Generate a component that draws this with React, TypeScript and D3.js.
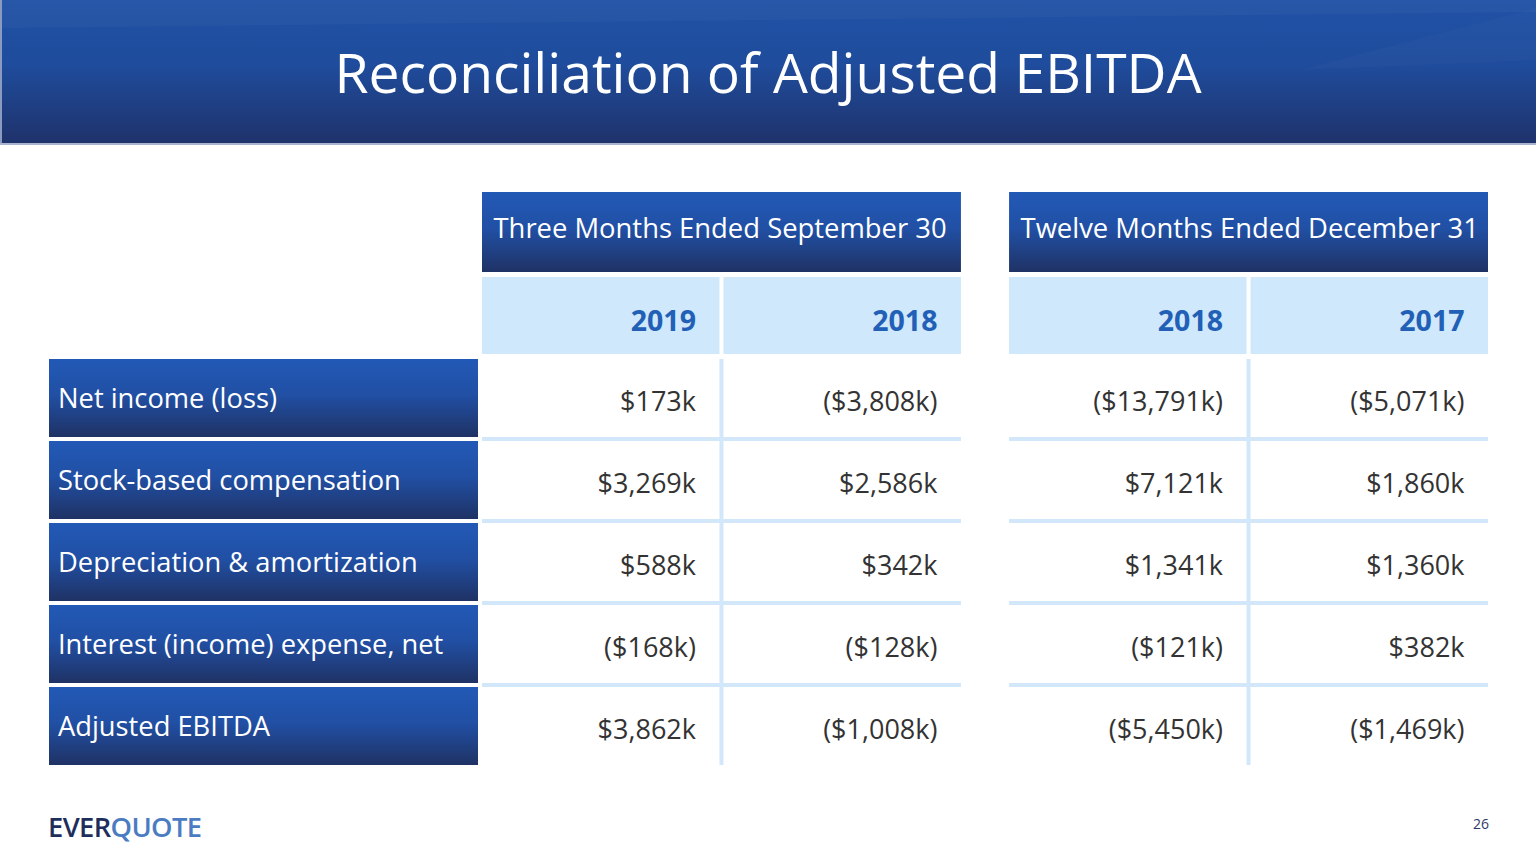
import React, { useEffect } from "react";
import * as d3 from "d3";

const title = "Reconciliation of Adjusted EBITDA";
const groups = ["Three Months Ended September 30", "Twelve Months Ended December 31"];
const years = [["2019", "2018"], ["2018", "2017"]];
const rowLabels = [
  "Net income (loss)",
  "Stock-based compensation",
  "Depreciation & amortization",
  "Interest (income) expense, net",
  "Adjusted EBITDA",
];
// values per row: [Q3 2019, Q3 2018, FY 2018, FY 2017]
const values = [
  ["$173k", "($3,808k)", "($13,791k)", "($5,071k)"],
  ["$3,269k", "$2,586k", "$7,121k", "$1,860k"],
  ["$588k", "$342k", "$1,341k", "$1,360k"],
  ["($168k)", "($128k)", "($121k)", "$382k"],
  ["$3,862k", "($1,008k)", "($5,450k)", "($1,469k)"],
];
const pageNumber = "26";

const W = 1536;
const H = 864;
const FONT = "'Open Sans', 'Noto Sans', sans-serif";

export default function App() {
  useEffect(() => {
    document.body.style.margin = "0";
  }, []);

  const gx = d3.scaleBand<number>().domain([0, 1]).range([482, 1488]).paddingInner(0.0913);
  const cx = d3.scaleBand<number>().domain([0, 1]).range([0, gx.bandwidth()]).paddingInner(0.0166);
  const ry = d3.scaleBand<number>().domain(d3.range(rowLabels.length)).range([359, 765]).paddingInner(0.0488);
  const hdrY = 192, hdrH = 80, yrY = 277, yrH = 77;
  const labelX0 = 49, labelX1 = 478;
  const sep = "#d2e8fa";
  const top = ry(0)!;
  const bottom = ry(rowLabels.length - 1)! + ry.bandwidth();
  const padR = 23.5;

  return (
    <svg width={W} height={H} style={{ display: "block", position: "absolute", left: 0, top: 0 }} fontFamily={FONT}>
      <defs>
        <linearGradient id="banner" x1="0" y1="0" x2="0" y2="1">
          <stop offset="0" stopColor="#2052a6" />
          <stop offset="0.45" stopColor="#1f4c9c" />
          <stop offset="1" stopColor="#1f326b" />
        </linearGradient>
        <linearGradient id="cell" x1="0" y1="0" x2="0" y2="1">
          <stop offset="0" stopColor="#2259b6" />
          <stop offset="0.45" stopColor="#2150a5" />
          <stop offset="1" stopColor="#1f3265" />
        </linearGradient>
      </defs>
      <rect x={0} y={0} width={W} height={H} fill="#ffffff" />
      {/* banner */}
      <rect x={0} y={0} width={W} height={144} fill="url(#banner)" />
      <path d={`M0,28 L1536,12 L1536,0 L0,0 Z`} fill="#ffffff" opacity={0.03} />
      <path d={`M1300,70 L1536,8 L1536,60 Z`} fill="#ffffff" opacity={0.02} />
      <rect x={0} y={0} width={2} height={144} fill="#8a9ac0" />
      <rect x={0} y={143} width={W} height={2} fill="#aab3cf" />
      <text x={768} y={93} textAnchor="middle" fill="#ffffff" fontSize={55.2}>{title}</text>

      {/* group headers and years */}
      {groups.map((g, gi) => {
        const x0 = gx(gi)!;
        return (
          <g key={g}>
            <rect x={x0} y={hdrY} width={gx.bandwidth()} height={hdrH} fill="url(#cell)" />
            <text x={x0 + 11.5} y={hdrY + 46} fill="#ffffff" fontSize={27.4}>{g}</text>
            {years[gi].map((yr, ci) => (
              <g key={ci}>
                <rect x={x0 + cx(ci)!} y={yrY} width={cx.bandwidth()} height={yrH} fill="#cfe8fb" />
                <text x={x0 + cx(ci)! + cx.bandwidth() - padR} y={yrY + 54} textAnchor="end" fill="#2160b6" fontSize={28.5} fontWeight={700}>{yr}</text>
              </g>
            ))}
            {/* separators */}
            <rect x={x0 + cx(0)! + cx.bandwidth()} y={top} width={cx.step() - cx.bandwidth()} height={bottom - top} fill={sep} />
            {rowLabels.slice(0, -1).map((_, ri) => (
              <rect key={ri} x={x0} y={ry(ri)! + ry.bandwidth()} width={gx.bandwidth()} height={ry.step() - ry.bandwidth()} fill={sep} />
            ))}
          </g>
        );
      })}

      {/* rows */}
      {rowLabels.map((lab, ri) => (
        <g key={lab}>
          <rect x={labelX0} y={ry(ri)!} width={labelX1 - labelX0} height={ry.bandwidth()} fill="url(#cell)" />
          <text x={labelX0 + 9} y={ry(ri)! + 49} fill="#ffffff" fontSize={27.3}>{lab}</text>
          {values[ri].map((v, k) => {
            const gi = Math.floor(k / 2), ci = k % 2;
            const x = gx(gi)! + cx(ci)! + cx.bandwidth() - padR;
            return (
              <text key={k} x={x} y={ry(ri)! + 52} textAnchor="end" fill="#333333" fontSize={27}>{v}</text>
            );
          })}
        </g>
      ))}

      {/* footer */}
      <text x={48} y={837} fontSize={27.3} fontWeight={600} letterSpacing={-0.6}>
        <tspan fill="#1e2e5c">EVER</tspan>
        <tspan fill="#4b7cc2">QUOTE</tspan>
      </text>
      <text x={1481} y={829} textAnchor="middle" fontSize={14} fill="#2e3a6a">{pageNumber}</text>
    </svg>
  );
}
